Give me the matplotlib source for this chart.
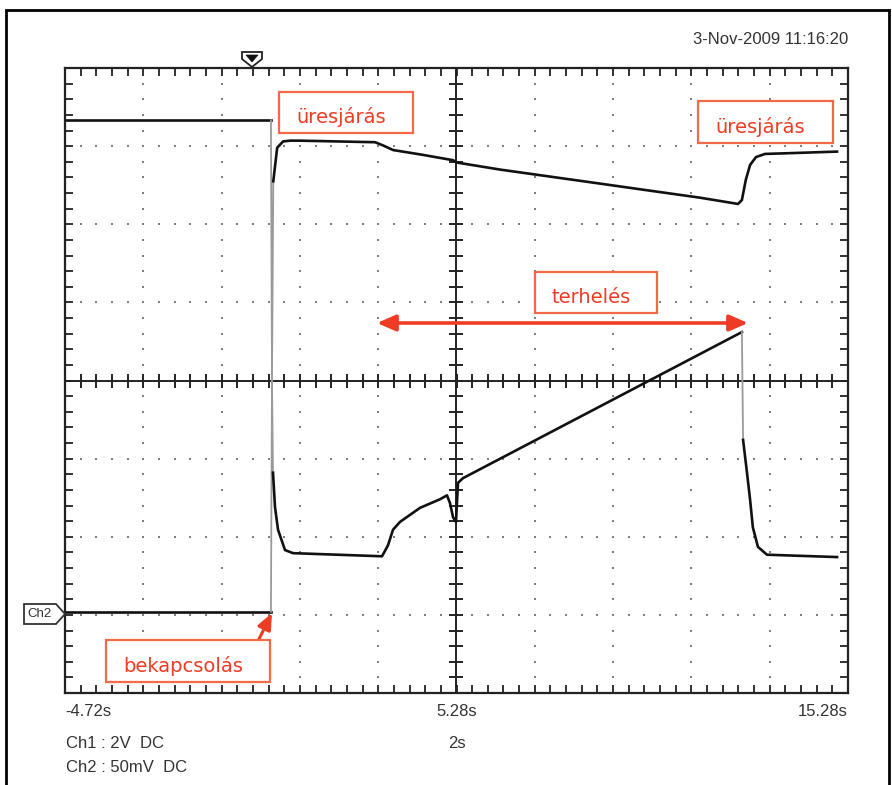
import numpy as np
import matplotlib
matplotlib.use('Agg')
import matplotlib.pyplot as plt
from matplotlib.patches import Rectangle, Polygon

# Ch1 trace (upper): time [s], level [div]
ch1_t = [-4.72, 0.54, 0.567, 0.60, 0.70, 0.85, 1.03, 1.28, 3.20, 3.40, 3.66, 4.40,
         5.19, 5.29, 6.39, 7.67, 8.95, 10.22, 11.50, 12.47, 12.57, 12.67, 12.78,
         12.93, 13.16, 13.80, 15.00]
ch1_v = [3.33, 3.33, 0.0, 2.55, 2.98, 3.06, 3.07, 3.07, 3.05, 3.01, 2.95, 2.89,
         2.82, 2.79, 2.70, 2.61, 2.52, 2.43, 2.34, 2.26, 2.31, 2.57, 2.76,
         2.86, 2.90, 2.91, 2.93]

# Ch2 trace (lower)
ch2_t = [-4.72, 0.54, 0.567, 0.593, 0.644, 0.721, 0.899, 1.104, 3.377, 3.53,
         3.658, 3.837, 4.348, 4.859, 5.037, 5.114, 5.191, 5.267, 5.318, 5.446,
         12.57, 12.60, 12.70, 12.78, 12.85, 12.98, 13.21, 15.00]
ch2_v = [-2.96, -2.96, 0.0, -1.18, -1.62, -1.91, -2.17, -2.21, -2.25, -2.11,
         -1.91, -1.81, -1.63, -1.52, -1.47, -1.57, -1.75, -1.81, -1.31, -1.25,
         0.62, -0.76, -1.18, -1.53, -1.88, -2.13, -2.23, -2.26]
# fast edges (index ranges) are drawn grey, like on the scope screen
ch1_edges = [(1, 3)]
ch2_edges = [(1, 3), (20, 21)]

x_labels = ['-4.72s', '5.28s', '15.28s']
timestamp = '3-Nov-2009 11:16:20'
timebase = '2s'
ch_info = ['Ch1 : 2V  DC', 'Ch2 : 50mV  DC']

RED = '#ee3b24'
BOX = '#f26a48'
W, H = 892, 785

def px(x, y):
    return (x / W, 1 - y / H)

fig = plt.figure(figsize=(W / 100, H / 100), dpi=100)
fig.patch.set_facecolor('white')
ax = fig.add_axes([65 / W, 92 / H, 783 / W, 625 / H])
ax.set_xlim(-4.72, 15.28)
ax.set_ylim(-4, 4)

# dotted graticule
minor_x = np.arange(-4.72, 15.29, 0.4)
minor_y = np.arange(-4, 4.01, 0.2)
for gx in np.arange(-4.72 + 2, 15.28 - 0.1, 2):
    if abs(gx - 5.28) > 0.01:
        ax.plot(np.full(len(minor_y), gx), minor_y, ls='none', marker='s', ms=1.8, color='#808080', mew=0)
for gy in [-3, -2, -1, 1, 2, 3]:
    ax.plot(minor_x, np.full(len(minor_x), gy), ls='none', marker='s', ms=1.8, color='#808080', mew=0)

# center cross with ticks
ax.axvline(5.28, color='#222', lw=1.4)
ax.axhline(0, color='#222', lw=1.4)
ax.plot(minor_x, np.zeros(len(minor_x)), ls='none', marker='|', ms=10, mew=1.4, color='#222')
ax.plot(np.full(len(minor_y), 5.28), minor_y, ls='none', marker='_', ms=10, mew=1.4, color='#222')

# border ticks
ax.set_xticks(minor_x)
ax.set_yticks(minor_y)
ax.tick_params(direction='in', length=6, width=1.3, color='#222', top=True, right=True,
               labelbottom=False, labelleft=False)
for s in ax.spines.values():
    s.set_linewidth(1.6)
    s.set_color('#222')

# traces
def draw_trace(t, v, edges):
    start = 0
    for a, b in edges:
        ax.plot(t[start:a + 1], v[start:a + 1], color='#111', lw=1.9, solid_joinstyle='round')
        ax.plot(t[a:b + 1], v[a:b + 1], color='#9a9a9a', lw=1.3)
        start = b
    ax.plot(t[start:], v[start:], color='#111', lw=1.9, solid_joinstyle='round')

draw_trace(ch1_t, ch1_v, ch1_edges)
draw_trace(ch2_t, ch2_v, ch2_edges)

# labels under the screen
fnt = ['Liberation Sans Narrow', 'Liberation Sans']
fig.text(*px(65, 712), x_labels[0], ha='left', va='center', fontsize=12, color='#333', family=fnt)
fig.text(*px(457, 712), x_labels[1], ha='center', va='center', fontsize=12, color='#333', family=fnt)
fig.text(*px(848, 712), x_labels[2], ha='right', va='center', fontsize=12, color='#333', family=fnt)
fig.text(*px(457, 744), timebase, ha='center', va='center', fontsize=12, color='#333', family=fnt)
fig.text(*px(66, 744), ch_info[0], ha='left', va='center', fontsize=12, color='#333', family=fnt)
fig.text(*px(66, 768), ch_info[1], ha='left', va='center', fontsize=12, color='#333', family=fnt)
fig.text(*px(848, 40), timestamp, ha='right', va='center', fontsize=12, color='#333', family=fnt)

# outer frame
fig.patches.append(Rectangle(px(6, 795), 883 / W, 785 / H, transform=fig.transFigure,
                             fill=False, lw=2, ec='black'))

# trigger marker
fig.patches.append(Polygon([px(242, 52), px(262, 52), px(262, 59), px(252, 67), px(242, 59)],
                           closed=True, transform=fig.transFigure, fc='white', ec='#222', lw=1.3))
fig.patches.append(Polygon([px(246, 55), px(258, 55), px(252, 62)], closed=True,
                           transform=fig.transFigure, fc='#111', ec='#111', lw=0.5))

# Ch2 marker
fig.patches.append(Polygon([px(24, 604), px(56, 604), px(65, 614), px(56, 624), px(24, 624)],
                           closed=True, transform=fig.transFigure, fc='white', ec='#333', lw=1.3))
fig.text(*px(40, 614), 'Ch2', ha='center', va='center', fontsize=9.5, color='#333', family=fnt)

# red annotation boxes
boxes = [(279, 92, 413, 133, 'üresjárás'), (698, 101, 833, 143, 'üresjárás'),
         (535, 272, 657, 313, 'terhelés'), (106, 640, 270, 682, 'bekapcsolás')]
for x0, y0, x1, y1, label in boxes:
    fig.patches.append(Rectangle(px(x0, y1), (x1 - x0) / W, (y1 - y0) / H,
                                 transform=fig.transFigure, fill=True, fc='white', ec=BOX, lw=1.6))
    fig.text(*px((x0 + x1) / 2 - 5, y1 - 10), label, ha='center', va='baseline',
             fontsize=14, color=RED)

# arrows
ax.annotate('', xy=px(748, 323), xytext=px(377, 323), xycoords='figure fraction',
            textcoords='figure fraction',
            arrowprops=dict(arrowstyle='<|-|>,head_length=0.8,head_width=0.35', mutation_scale=14,
                            color=RED, lw=2.6, shrinkA=0, shrinkB=0))
ax.annotate('', xy=px(272, 613), xytext=px(257, 643), xycoords='figure fraction',
            textcoords='figure fraction',
            arrowprops=dict(arrowstyle='-|>,head_length=0.7,head_width=0.3', mutation_scale=14,
                            color=RED, lw=2.2, shrinkA=0, shrinkB=0))

plt.savefig('out.png', dpi=100)
plt.close()
